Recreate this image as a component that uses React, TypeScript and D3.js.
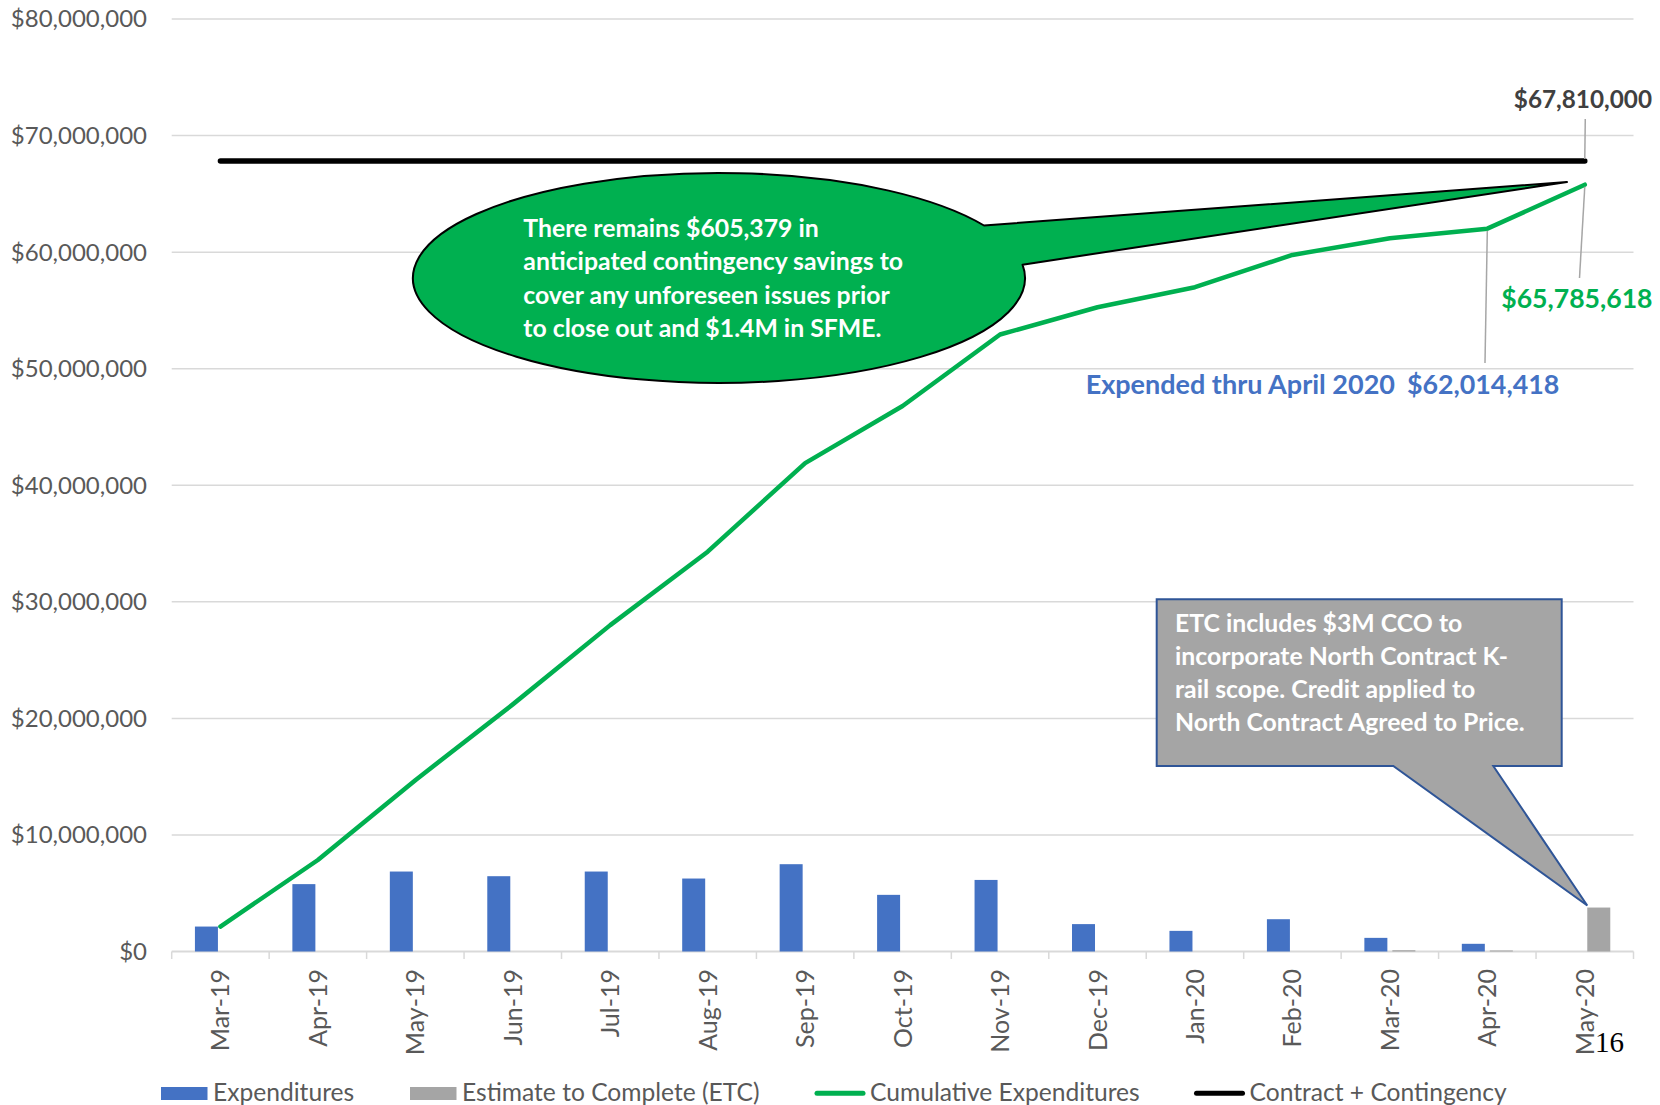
import React from 'react';
import * as d3 from 'd3';

const categories = ["Mar-19","Apr-19","May-19","Jun-19","Jul-19","Aug-19","Sep-19","Oct-19","Nov-19","Dec-19","Jan-20","Feb-20","Mar-20","Apr-20","May-20"];
const expenditures = [2140000,5780000,6860000,6460000,6860000,6260000,7490000,4860000,6140000,2350000,1770000,2770000,1170000,660000,0];
const estimateToComplete = [0,0,0,0,0,0,0,0,0,0,0,0,110000,90000,3771200];
const cumulative = [2140000,7850000,14700000,21200000,28000000,34300000,41900000,46800000,52930000,55270000,56990000,59760000,61190000,62014418,65785618];
const contractPlusContingency = 67810000;
const yTicks = [0,10000000,20000000,30000000,40000000,50000000,60000000,70000000,80000000];
const greenNote = ["There remains $605,379 in","anticipated contingency savings to","cover any unforeseen issues prior","to close out and $1.4M in SFME."];
const grayNote = ["ETC includes $3M CCO to","incorporate North Contract K-","rail scope. Credit applied to","North Contract Agreed to Price."];
const legendItems = [
  { label: "Expenditures", kind: "rect", color: "#4472C4" },
  { label: "Estimate to Complete (ETC)", kind: "rect", color: "#A5A5A5" },
  { label: "Cumulative Expenditures", kind: "line", color: "#00B050" },
  { label: "Contract + Contingency", kind: "line", color: "#000000" },
];
const legendX = [161, 410, 815, 1194.5];

const W = 1660, H = 1105;
const FONT = "Lato, 'Open Sans', sans-serif";
const fmt = (v: number) => "$" + d3.format(",")(v);

export default function App() {
  const x = d3.scaleBand<string>().domain(categories).range([171.7, 1633.5]).padding(0);
  const cw = x.bandwidth();
  const inner = d3.scaleBand<string>().domain(["exp", "etc"]).range([cw / 2 - 25.5, cw / 2 + 25.5]).paddingInner(0.1786).paddingOuter(0);
  const y = d3.scaleLinear().domain([0, 80000000]).range([951.5, 19]);
  const cx = (c: string) => (x(c) as number) + cw / 2;
  const line = d3.line<number>().x((_, i) => cx(categories[i])).y((d) => y(d));
  const [x0, x1] = x.range();
  const last = categories[categories.length - 1];
  const apr = categories[categories.length - 2];

  // green ellipse callout
  const ecx = 719, ecy = 278, erx = 306, ery = 105;
  const pt = (deg: number) => {
    const a = (deg * Math.PI) / 180;
    return [ecx + erx * Math.cos(a), ecy + ery * Math.sin(a)];
  };
  const A = pt(-30), B = pt(-7.3);
  const tip = [1567, 182];
  const ellipsePath = `M${A[0]},${A[1]} L${tip[0]},${tip[1]} L${B[0]},${B[1]} A${erx},${ery} 0 1 1 ${A[0]},${A[1]} Z`;

  // gray rectangle callout
  const r = { l: 1156.7, t: 599.3, rr: 1561.7, b: 766 };
  const gTip = [cx(last) + 2.5, y(estimateToComplete[estimateToComplete.length - 1]) - 2];
  const grayPath = `M${r.l},${r.t} H${r.rr} V${r.b} H1493.3 L${gTip[0]},${gTip[1]} L1393.3,${r.b} H${r.l} Z`;

  const ticksX = [...categories.map((c) => x(c) as number), x1];

  return (
    <svg width={W} height={H} style={{ position: "absolute", left: 0, top: 0, background: "#fff", display: "block" }} fontFamily={FONT}>
      <rect x={0} y={0} width={W} height={H} fill="#fff" />
      {/* gridlines */}
      {yTicks.map((t) => (
        <line key={t} x1={x0} x2={x1} y1={y(t)} y2={y(t)} stroke="#D9D9D9" strokeWidth={t === 0 ? 2 : 1.5} />
      ))}
      {ticksX.map((tx, i) => (
        <line key={i} x1={tx} x2={tx} y1={y(0)} y2={y(0) + 7.5} stroke="#D9D9D9" strokeWidth={1.5} />
      ))}
      {/* y labels */}
      {yTicks.map((t) => (
        <text key={t} x={147} y={y(t)} dy="0.35em" textAnchor="end" fontSize={24} fill="#595959">{fmt(t)}</text>
      ))}
      {/* x labels */}
      {categories.map((c) => (
        <text key={c} transform={`translate(${cx(c)},969) rotate(-90)`} dy="0.36em" textAnchor="end" fontSize={25} fill="#595959">{c}</text>
      ))}
      {/* bars */}
      {categories.map((c, i) => (
        <g key={c}>
          {expenditures[i] > 0 && (
            <rect x={(x(c) as number) + (inner("exp") as number)} y={y(expenditures[i])} width={inner.bandwidth()} height={y(0) - y(expenditures[i])} fill="#4472C4" />
          )}
          {estimateToComplete[i] > 0 && (
            <rect x={(x(c) as number) + (inner("etc") as number)} y={y(estimateToComplete[i])} width={inner.bandwidth()} height={y(0) - y(estimateToComplete[i])} fill="#A5A5A5" />
          )}
        </g>
      ))}
      {/* contract line */}
      <line x1={cx(categories[0])} x2={cx(last)} y1={y(contractPlusContingency)} y2={y(contractPlusContingency)} stroke="#000" strokeWidth={5.5} strokeLinecap="round" />
      {/* cumulative line */}
      <path d={line(cumulative) || ""} fill="none" stroke="#00B050" strokeWidth={4.5} strokeLinejoin="round" strokeLinecap="round" />

      {/* leader lines */}
      <line x1={cx(last)} y1={y(contractPlusContingency) - 2} x2={cx(last) + 0.5} y2={119} stroke="#A6A6A6" strokeWidth={1.5} />
      <line x1={cx(last)} y1={y(cumulative[cumulative.length - 1]) + 2} x2={1579.5} y2={278} stroke="#A6A6A6" strokeWidth={1.5} />
      <line x1={cx(apr)} y1={y(cumulative[cumulative.length - 2]) + 2} x2={1485} y2={363} stroke="#A6A6A6" strokeWidth={1.5} />

      {/* data labels */}
      <text x={1652} y={108.3} textAnchor="end" fontSize={24.3} fontWeight="bold" fill="#404040">{fmt(contractPlusContingency)}</text>
      <text x={1652.5} y={308.3} textAnchor="end" fontSize={26.6} fontWeight="bold" fill="#00B050">{fmt(cumulative[cumulative.length - 1])}</text>
      <text x={1395} y={394} textAnchor="end" fontSize={27} fontWeight="bold" fill="#4472C4">Expended thru April 2020</text>
      <text x={1559.3} y={394} textAnchor="end" fontSize={26.8} fontWeight="bold" fill="#4472C4">{fmt(cumulative[cumulative.length - 2])}</text>

      {/* green callout */}
      <path d={ellipsePath} fill="#00B050" stroke="#000" strokeWidth={2} strokeLinejoin="round" />
      {greenNote.map((t, i) => (
        <text key={i} x={523.3} y={237.3 + i * 33.1} fontSize={24.8} fontWeight="bold" fill="#fff">{t}</text>
      ))}

      {/* gray callout */}
      <path d={grayPath} fill="#A5A5A5" stroke="#2F5597" strokeWidth={2} strokeLinejoin="miter" />
      {grayNote.map((t, i) => (
        <text key={i} x={1175} y={632 + i * 33} fontSize={24.8} fontWeight="bold" fill="#fff">{t}</text>
      ))}

      {/* page number */}
      <text x={1595} y={1052} fontSize={29} fontFamily="'Liberation Serif', 'Times New Roman', serif" fill="#000">16</text>

      {/* legend */}
      {legendItems.map((it, i) => (
        <g key={it.label}>
          {it.kind === "rect" ? (
            <rect x={legendX[i]} y={1087} width={46.5} height={13} fill={it.color} />
          ) : (
            <line x1={legendX[i] + 2} x2={legendX[i] + 48} y1={1093.3} y2={1093.3} stroke={it.color} strokeWidth={5} strokeLinecap="round" />
          )}
          <text x={legendX[i] + (it.kind === "rect" ? 52 : 55)} y={1101} fontSize={24.6} fill="#595959">{it.label}</text>
        </g>
      ))}
    </svg>
  );
}
